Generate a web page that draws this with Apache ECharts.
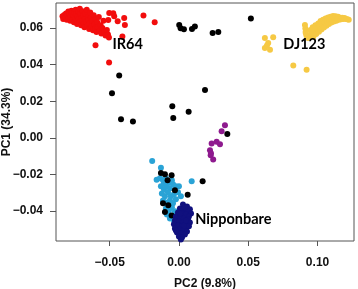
<!DOCTYPE html>
<html>
<head>
<meta charset="utf-8">
<script src="https://cdn.jsdelivr.net/npm/echarts@6/dist/echarts.min.js"></script>
<style>
  html, body { margin: 0; padding: 0; background: #fff; }
</style>
</head>
<body>
<div id="pcaChart" style="width: 358px;height:289px;"></div>
<script>
// 坐标轴刻度
var xTicks = [-0.05, 0, 0.05, 0.10];
var xTickLabels = ['\u22120.05', '0.00', '0.05', '0.10'];
var yTicks = [-0.04, -0.02, 0, 0.02, 0.04, 0.06];
var yTickLabels = ['\u22120.04', '\u22120.02', '0.00', '0.02', '0.04', '0.06'];

// IR64 群 (红)
var redPoints = [
  [-0.0840,0.0665],[-0.0835,0.0650],[-0.0828,0.0672],[-0.0820,0.0658],[-0.0815,0.0680],[-0.0810,0.0645],
  [-0.0805,0.0668],[-0.0798,0.0690],[-0.0795,0.0655],[-0.0790,0.0678],[-0.0785,0.0640],[-0.0780,0.0662],
  [-0.0775,0.0695],[-0.0772,0.0683],[-0.0768,0.0650],[-0.0762,0.0670],[-0.0758,0.0632],[-0.0755,0.0688],
  [-0.0750,0.0657],[-0.0745,0.0700],[-0.0742,0.0676],[-0.0738,0.0642],[-0.0735,0.0622],[-0.0730,0.0665],
  [-0.0726,0.0690],[-0.0722,0.0650],[-0.0718,0.0630],[-0.0715,0.0705],[-0.0710,0.0678],[-0.0706,0.0615],
  [-0.0702,0.0655],[-0.0698,0.0640],[-0.0694,0.0692],[-0.0690,0.0668],[-0.0686,0.0625],[-0.0682,0.0605],
  [-0.0678,0.0650],[-0.0674,0.0680],[-0.0670,0.0635],[-0.0665,0.0700],[-0.0660,0.0612],[-0.0656,0.0660],
  [-0.0652,0.0645],[-0.0648,0.0595],[-0.0644,0.0625],[-0.0640,0.0685],[-0.0635,0.0655],[-0.0630,0.0608],
  [-0.0625,0.0640],[-0.0620,0.0588],[-0.0615,0.0670],[-0.0610,0.0620],[-0.0605,0.0598],[-0.0600,0.0650],
  [-0.0595,0.0578],[-0.0590,0.0632],[-0.0585,0.0605],[-0.0578,0.0660],[-0.0572,0.0585],[-0.0565,0.0615],
  [-0.0560,0.0570],[-0.0552,0.0600],[-0.0545,0.0640],[-0.0538,0.0575],[-0.0530,0.0560],[-0.0520,0.0590],
  [-0.0512,0.0565],[-0.0505,0.0548],
  [-0.0503,0.0683],[-0.0467,0.0665],[-0.0474,0.0681],[-0.0395,0.0655],[-0.0390,0.0617],[-0.0442,0.0637],
  [-0.0510,0.0644],[-0.0408,0.0554],[-0.0256,0.0668],[-0.0175,0.0632],[-0.0602,0.0506],[-0.0504,0.0412]
];

// DJ123 群 (黄)
var yellowPoints = [
  [0.0909,0.0617],[0.0912,0.0598],[0.0914,0.0578],[0.0920,0.0560],[0.0932,0.0545],[0.0945,0.0555],
  [0.0950,0.0590],[0.0958,0.0570],[0.0965,0.0605],[0.0970,0.0553],[0.0978,0.0585],[0.0985,0.0615],
  [0.0990,0.0568],[0.0998,0.0598],[0.1005,0.0625],[0.1010,0.0580],[0.1016,0.0610],[0.1022,0.0638],
  [0.1028,0.0592],[0.1034,0.0622],[0.1040,0.0645],[0.1046,0.0603],[0.1052,0.0630],[0.1058,0.0652],
  [0.1064,0.0612],[0.1070,0.0638],[0.1076,0.0658],[0.1082,0.0622],[0.1088,0.0645],[0.1094,0.0662],
  [0.1100,0.0630],[0.1106,0.0650],[0.1112,0.0666],[0.1118,0.0636],[0.1124,0.0655],[0.1130,0.0664],
  [0.1136,0.0640],[0.1142,0.0652],[0.1148,0.0662],[0.1155,0.0645],[0.1162,0.0656],[0.1170,0.0648],
  [0.1178,0.0657],[0.1186,0.0650],[0.1195,0.0655],[0.1205,0.0650],[0.1215,0.0648],[0.1225,0.0645],
  [0.0620,0.0546],[0.0680,0.0550],[0.0644,0.0518],[0.0620,0.0491],[0.0657,0.0482],[0.0635,0.0505],
  [0.0916,0.0572],[0.0825,0.0396],[0.0921,0.0372]
];

// 紫
var purplePoints = [
  [0.0332,0.0069],[0.0308,0.0036],[0.0236,-0.0031],[0.0272,-0.0022],[0.0296,-0.0035],
  [0.0224,-0.0068],[0.0229,-0.0095],[0.0247,-0.0119],[0.0231,-0.0084]
];

// 浅蓝
var lightBluePoints = [
  [-0.0193,-0.0127],[-0.0130,-0.0164],[-0.0161,-0.0229],[-0.0108,-0.0250],[0.0092,-0.0238],
  [-0.0137,-0.0221],[-0.0115,-0.0232],[-0.0094,-0.0221],[-0.0072,-0.0243],[-0.0051,-0.0232],
  [-0.0130,-0.0265],[-0.0108,-0.0282],[-0.0087,-0.0265],[-0.0065,-0.0276],[-0.0043,-0.0254],
  [-0.0022,-0.0265],[-0.0123,-0.0304],[-0.0101,-0.0320],[-0.0079,-0.0298],[-0.0058,-0.0320],
  [-0.0036,-0.0309],[-0.0007,-0.0298],[-0.0115,-0.0342],[-0.0094,-0.0353],[-0.0065,-0.0342],
  [-0.0043,-0.0358],[-0.0022,-0.0336],[-0.0094,-0.0386],[-0.0072,-0.0397],[-0.0051,-0.0380],
  [-0.0029,-0.0402],[-0.0087,-0.0419],[-0.0051,-0.0430],[-0.0022,-0.0419],[-0.0065,-0.0441],
  [-0.0036,-0.0452],[-0.0007,-0.0441],[0.0014,-0.0320],[0.0000,-0.0265]
];

// 黑 (其他)
var blackPoints = [
  [-0.0431,0.0341],[-0.0483,0.0244],[-0.0418,0.0102],[-0.0332,0.0089],[-0.0048,0.0173],
  [-0.0041,0.0109],[0.0070,0.0142],[0.0188,0.0261],[0.0002,0.0617],[0.0012,0.0599],
  [0.0036,0.0593],[0.0094,0.0595],[0.0115,0.0608],[0.0243,0.0573],[0.0284,0.0579],
  [0.0349,0.0021],[0.0519,0.0652],
  [-0.0130,-0.0192],[-0.0101,-0.0199],[-0.0053,-0.0205],[-0.0082,-0.0232],[-0.0029,-0.0287],
  [-0.0115,-0.0358],[-0.0077,-0.0369],[-0.0101,-0.0406],[-0.0053,-0.0424],[-0.0022,-0.0452],
  [0.0007,-0.0479],[-0.0007,-0.0506],[0.0063,-0.0311],[0.0171,-0.0238]
];

// Nipponbare 群 (深蓝)
var navyPoints = [
  [0.0029,-0.0364],[0.0058,-0.0375],[0.0079,-0.0391],[0.0007,-0.0386],[0.0036,-0.0391],
  [0.0065,-0.0402],[0.0087,-0.0413],[-0.0007,-0.0408],[0.0022,-0.0413],[0.0051,-0.0419],
  [0.0072,-0.0430],[-0.0022,-0.0430],[0.0007,-0.0435],[0.0036,-0.0441],[0.0065,-0.0446],
  [-0.0029,-0.0452],[0.0000,-0.0457],[0.0029,-0.0463],[0.0058,-0.0468],[0.0079,-0.0463],
  [-0.0036,-0.0473],[-0.0007,-0.0479],[0.0022,-0.0484],[0.0051,-0.0490],[0.0072,-0.0484],
  [-0.0029,-0.0495],[0.0000,-0.0501],[0.0029,-0.0506],[0.0058,-0.0512],[-0.0014,-0.0517],
  [0.0014,-0.0523],[0.0043,-0.0528],[0.0000,-0.0539],[0.0022,-0.0545],[0.0014,-0.0556],
  [-0.0022,-0.0506],[0.0036,-0.0479],[0.0051,-0.0452],[0.0007,-0.0413],[0.0043,-0.0380]
];

// 群名标注
var groupNames = ['IR64', 'DJ123', 'Nipponbare'];
var groupLabelPos = [[-0.0370, 0.0513], [0.0905, 0.0513], [0.0393, -0.0446]];

var chart = echarts.init(document.getElementById('pcaChart'));

function dots(name, data, color) {
  return {
    name: name,
    type: 'scatter',
    symbol: 'circle',
    symbolSize: 6,
    itemStyle: { color: color, opacity: 1 },
    data: data,
    silent: true
  };
}

var axisFont = {
  fontFamily: 'Liberation Sans, Arial, sans-serif',
  fontWeight: 'bold',
  fontSize: 12,
  color: '#111'
};

var option = {
  animation: false,
  backgroundColor: '#fff',
  grid: {
    left: 56, right: 4, top: 3, bottom: 48,
    outerBoundsMode: 'none',
    containLabel: false,
    show: true,
    borderColor: '#555',
    borderWidth: 1,
    backgroundColor: 'transparent'
  },
  xAxis: {
    type: 'value',
    min: -0.0887,
    max: 0.1263,
    name: 'PC2 (9.8%)',
    nameLocation: 'middle',
    nameGap: 36.5,
    nameMoveOverlap: false,
    nameTextStyle: axisFont,
    axisLine: { show: false, onZero: false },
    splitLine: { show: false },
    axisTick: {
      show: true, inside: false, length: 5,
      customValues: xTicks,
      lineStyle: { color: '#555' }
    },
    axisLabel: Object.assign({
      margin: 16,
      customValues: xTicks,
      formatter: function (v) {
        var i = xTicks.findIndex(function (t) { return Math.abs(t - v) < 1e-9; });
        return i >= 0 ? xTickLabels[i] : '';
      }
    }, axisFont)
  },
  yAxis: {
    type: 'value',
    min: -0.0564,
    max: 0.0737,
    name: 'PC1 (34.3%)',
    nameLocation: 'middle',
    nameGap: 43,
    nameMoveOverlap: false,
    nameTextStyle: axisFont,
    axisLine: { show: false, onZero: false },
    splitLine: { show: false },
    axisTick: {
      show: true, inside: false, length: 6,
      customValues: yTicks,
      lineStyle: { color: '#555' }
    },
    axisLabel: Object.assign({
      margin: 13,
      customValues: yTicks,
      formatter: function (v) {
        var i = yTicks.findIndex(function (t) { return Math.abs(t - v) < 1e-9; });
        return i >= 0 ? yTickLabels[i] : '';
      }
    }, axisFont)
  },
  series: [
    dots('IR64', redPoints, '#f20d0d'),
    dots('DJ123', yellowPoints, '#f6c944'),
    dots('purple', purplePoints, '#8e1a8e'),
    dots('lightblue', lightBluePoints, '#2aa3d6'),
    dots('other', blackPoints, '#000000'),
    dots('Nipponbare', navyPoints, '#10107e'),
    {
      // 标注文字
      type: 'scatter',
      symbolSize: 0,
      silent: true,
      itemStyle: { opacity: 1 },
      data: groupNames.map(function (n, i) {
        return { name: n, value: groupLabelPos[i] };
      }),
      label: {
        show: true,
        position: 'inside',
        formatter: '{b}',
        fontFamily: 'Lato, sans-serif',
        fontWeight: 'bold',
        fontSize: 14.5,
        color: '#000',
        opacity: 1
      }
    }
  ]
};

chart.setOption(option);
</script>
</body>
</html>
